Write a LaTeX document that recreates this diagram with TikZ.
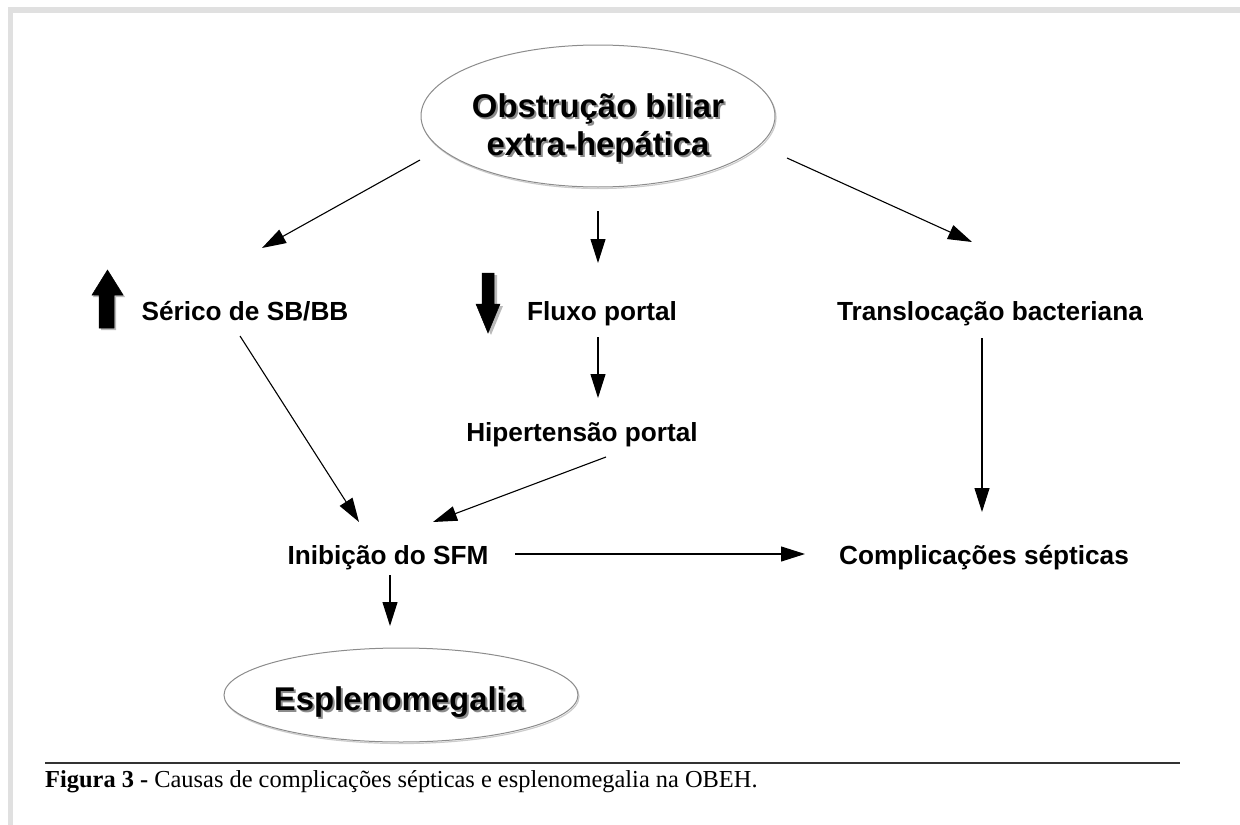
\documentclass[tikz,border=0pt]{standalone}
\usepackage{fontspec}
\setmainfont{Liberation Serif}
\newfontfamily\arialf{Liberation Sans}
\usetikzlibrary{arrows.meta,shapes.geometric}
\definecolor{framegray}{HTML}{E0E0E0}
\definecolor{shadowgray}{HTML}{8C8C8C}
\tikzset{
  lbl/.style={font=\arialf\bfseries\fontsize{26.3}{30}\selectfont, anchor=base, inner sep=0pt},
  big/.style={font=\arialf\bfseries\fontsize{33}{38}\selectfont, anchor=base, inner sep=0pt},
  arr/.style={line width=1.1bp, -{Triangle[length=24bp,width=15bp]}},
  oval/.style={draw=shadowgray, fill=white, line width=1bp},
  ovalshadow/.style={draw=black!20, line width=1.2bp},
  blockarrow/.style={fill=black, draw=black, line width=0.5bp},
  blockshadow/.style={fill=shadowgray!60, draw=none},
}
\begin{document}
\begin{tikzpicture}[x=1bp,y=-1bp]
\useasboundingbox (0,0) rectangle (1240,825);
% frame
\fill[framegray] (8,7) rectangle (1240,13);
\fill[framegray] (8,7) rectangle (13,825);
% ellipses
\draw[ovalshadow] (599,117.5) ellipse [x radius=177, y radius=71];
\draw[oval] (598,116) ellipse [x radius=177, y radius=71];
\draw[ovalshadow] (402,696.5) ellipse [x radius=177, y radius=47];
\draw[oval] (401,695) ellipse [x radius=177, y radius=47];
% ellipse texts with shadows
\node[big, text=shadowgray] at (600,119) {Obstrução biliar};
\node[big] (top1) at (598,117) {Obstrução biliar};
\node[big, text=shadowgray] at (600,157) {extra-hepática};
\node[big] (top2) at (598,155) {extra-hepática};
\node[big, text=shadowgray] at (401,712) {Esplenomegalia};
\node[big] (esp) at (399,710) {Esplenomegalia};
% labels
\node[lbl] (ser) at (245,320) {Sérico de SB/BB};
\node[lbl] (flu) at (602,320) {Fluxo portal};
\node[lbl] (tra) at (990,320) {Translocação bacteriana};
\node[lbl] (hip) at (582,441) {Hipertensão portal};
\node[lbl] (ini) at (388,564) {Inibição do SFM};
\node[lbl] (com) at (984,564) {Complicações sépticas};
% block arrows
\fill[blockshadow] (101,297) -- (101,330) -- (116,330) -- (116,297) -- (125,297) -- (109,272) -- (93,297) -- cycle;
\draw[blockarrow] (99,295) -- (99,328) -- (114,328) -- (114,295) -- (123,295) -- (107.5,270) -- (92,295) -- cycle;
\fill[blockshadow] (484,275) -- (484,306) -- (478,306) -- (491,335) -- (503,306) -- (497,306) -- (497,275) -- cycle;
\draw[blockarrow] (482,273) -- (482,304) -- (476,304) -- (488,333) -- (500,304) -- (494,304) -- (494,273) -- cycle;
% connector end points
\coordinate (a1s) at (420,160); \coordinate (a1e) at (262,248);
\coordinate (a2s) at (598,211); \coordinate (a2e) at (598,263);
\coordinate (a3s) at (787,158); \coordinate (a3e) at (972,242);
\coordinate (a4s) at (240,336); \coordinate (a4e) at (359,522);
\coordinate (a5s) at (598,337); \coordinate (a5e) at (598,398);
\coordinate (a6s) at (606,457); \coordinate (a6e) at (433,522);
\coordinate (a7s) at (982,338); \coordinate (a7e) at (982,512);
\coordinate (a8s) at (515,554); \coordinate (a8e) at (805,554);
\coordinate (a9s) at (390,575); \coordinate (a9e) at (390,626);
\foreach \i in {1,...,9} { \draw[arr] (a\i s) -- (a\i e); }
% caption
\draw[line width=1.3bp, black!80] (45,763) -- (1180,763);
\node[anchor=base west, inner sep=0pt, font=\fontsize{24.5}{28}\selectfont] (cap) at (45,787) {\textbf{Figura 3 -} Causas de complicações sépticas e esplenomegalia na OBEH.};
\end{tikzpicture}
\end{document}
